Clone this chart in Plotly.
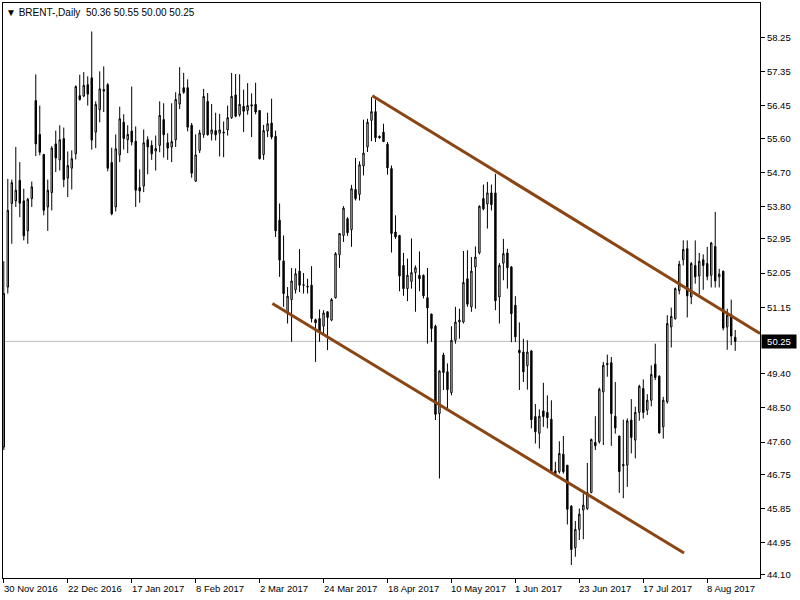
import plotly.graph_objects as go

# ---- data (BRENT daily) ----
opens = [47.47, 51.68, 53.88, 53.95, 54.49, 53.95, 53.16, 54.01, 56.59, 55.70,
         55.17, 53.79, 54.17, 55.45, 55.03, 55.59, 54.55, 54.81, 55.19, 56.72,
         56.71, 57.01, 57.19, 55.76, 56.35, 56.88, 57.01, 54.96, 53.79, 55.16,
         56.02, 55.56, 55.79, 55.52, 54.30, 54.34, 55.56, 55.41, 55.26, 55.41,
         56.09, 55.48, 55.37, 55.56, 56.50, 56.93, 56.93, 55.94, 54.47, 55.28,
         55.69, 56.57, 55.72, 55.80, 55.73, 55.76, 55.82, 56.14, 56.74, 56.22,
         56.44, 56.33, 56.48, 56.49, 56.33, 55.17, 55.79, 56.00, 55.65, 53.44,
         52.37, 50.98, 51.35, 51.61, 52.10, 51.74, 51.68, 51.73, 50.82, 50.85,
         50.65, 51.03, 50.81, 51.40, 52.53, 53.04, 53.48, 53.19, 54.25, 54.12,
         54.87, 55.37, 56.07, 56.30, 55.65, 55.76, 55.44, 54.80, 53.13, 53.04,
         52.25, 51.64, 51.83, 52.06, 51.99, 51.99, 51.40, 50.97, 50.65, 48.35,
         49.89, 49.45, 48.90, 50.28, 50.76, 50.76, 51.90, 51.16, 52.21, 52.58,
         54.01, 53.87, 54.16, 54.16, 51.42, 52.31, 52.58, 52.21, 51.20, 50.02,
         49.97, 49.61, 50.00, 48.27, 47.83, 48.42, 48.38, 48.20, 46.84, 46.82,
         47.28, 46.99, 45.91, 44.82, 45.30, 45.81, 45.85, 46.27, 47.59, 47.61,
         48.92, 49.67, 49.69, 48.28, 47.76, 46.97, 46.99, 48.18, 47.65, 48.38,
         49.01, 48.44, 48.70, 49.65, 49.33, 48.00, 48.66, 50.63, 50.85, 51.59,
         52.40, 52.69, 51.42, 52.25, 51.97, 52.40, 52.30, 51.99, 52.75, 51.95,
         52.10, 50.63, 50.96, 50.36]
highs = [52.36, 54.53, 54.51, 55.37, 54.97, 54.27, 54.03, 54.46, 57.28, 56.46,
         55.19, 54.51, 55.39, 55.80, 55.94, 55.88, 55.25, 55.28, 56.99, 57.27,
         57.34, 57.23, 58.41, 56.57, 57.36, 57.49, 57.05, 55.35, 55.70, 56.43,
         56.23, 55.94, 56.96, 55.91, 54.78, 55.83, 55.65, 55.54, 55.67, 56.57,
         56.52, 55.73, 56.52, 56.81, 57.47, 57.32, 57.15, 56.00, 55.70, 55.82,
         56.90, 56.79, 56.50, 56.27, 56.24, 56.04, 56.46, 57.32, 57.29, 57.28,
         56.88, 57.05, 56.78, 57.06, 56.33, 55.95, 56.27, 56.64, 55.80, 53.88,
         53.04, 51.68, 52.18, 52.17, 52.68, 52.05, 51.90, 52.23, 50.85, 51.09,
         51.07, 51.04, 51.39, 52.60, 53.09, 53.81, 53.52, 54.37, 55.08, 54.99,
         56.09, 56.11, 56.68, 56.62, 55.67, 55.98, 55.50, 54.88, 53.57, 53.04,
         52.58, 52.43, 52.96, 52.25, 52.62, 52.01, 52.18, 50.98, 50.69, 49.49,
         49.95, 49.67, 50.65, 51.16, 51.11, 52.63, 52.65, 52.47, 52.75, 53.83,
         54.38, 54.45, 54.38, 54.66, 52.31, 52.95, 52.69, 52.23, 51.44, 50.75,
         50.32, 50.28, 50.02, 48.60, 48.46, 49.16, 48.83, 48.70, 47.08, 47.62,
         47.76, 46.99, 45.94, 45.52, 45.85, 46.25, 47.05, 47.69, 48.28, 49.03,
         49.71, 49.90, 49.84, 49.18, 47.76, 48.19, 48.22, 48.73, 48.53, 49.11,
         49.25, 48.86, 49.62, 50.19, 49.36, 48.79, 50.94, 51.14, 51.67, 52.37,
         52.91, 52.91, 52.34, 52.91, 52.58, 52.54, 52.74, 52.87, 53.66, 52.16,
         52.11, 51.11, 51.35, 50.55]
lows = [47.39, 51.51, 52.82, 53.79, 53.52, 52.91, 52.82, 53.79, 55.13, 55.15,
        53.57, 53.16, 53.70, 54.71, 54.75, 54.31, 54.05, 54.25, 55.04, 56.59,
        56.68, 56.46, 55.30, 55.34, 56.02, 56.29, 54.73, 53.57, 53.67, 54.97,
        55.30, 55.21, 55.41, 53.79, 53.90, 54.18, 54.65, 55.03, 54.75, 55.23,
        55.09, 55.03, 54.97, 55.37, 56.37, 56.77, 55.78, 54.56, 54.45, 55.21,
        55.61, 55.67, 55.54, 55.54, 55.12, 55.10, 55.67, 56.11, 56.15, 56.17,
        55.76, 56.22, 55.63, 56.23, 55.04, 55.03, 55.63, 55.57, 53.00, 51.95,
        51.16, 50.72, 50.24, 51.51, 51.55, 51.51, 51.51, 50.75, 49.71, 50.24,
        50.46, 50.02, 50.78, 51.38, 52.18, 52.87, 53.03, 52.74, 53.96, 53.96,
        54.62, 55.24, 55.52, 55.50, 55.59, 55.50, 54.64, 52.59, 52.95, 51.57,
        51.45, 51.31, 51.64, 51.03, 51.57, 51.38, 50.19, 50.24, 48.18, 46.64,
        48.97, 48.48, 48.83, 50.19, 50.32, 50.72, 51.16, 51.03, 51.11, 52.54,
        53.70, 53.22, 53.70, 51.07, 50.72, 51.86, 51.64, 50.23, 50.23, 48.97,
        49.18, 48.98, 47.96, 47.56, 47.43, 48.00, 47.96, 46.77, 46.70, 46.77,
        46.77, 45.43, 44.36, 44.58, 45.02, 45.04, 45.81, 46.25, 47.39, 47.56,
        47.52, 49.32, 47.50, 47.82, 46.26, 46.12, 46.42, 47.30, 47.17, 48.16,
        48.22, 48.31, 48.54, 49.23, 47.82, 47.69, 48.61, 50.09, 50.82, 51.49,
        52.25, 50.88, 51.23, 51.77, 51.49, 51.61, 51.86, 51.67, 51.67, 51.67,
        50.54, 50.03, 50.15, 50.00]
closes = [51.51, 53.70, 54.43, 54.23, 53.89, 53.03, 53.99, 54.32, 55.45, 55.23,
          53.70, 54.23, 55.34, 55.08, 55.56, 54.51, 54.88, 55.06, 56.96, 56.62,
          56.99, 56.76, 55.55, 56.49, 56.90, 56.84, 54.81, 53.61, 55.32, 56.11,
          55.59, 55.70, 55.50, 54.23, 54.21, 55.48, 55.37, 55.19, 55.33, 56.20,
          55.69, 55.34, 55.51, 56.62, 56.77, 56.81, 55.89, 54.68, 55.16, 55.74,
          56.70, 55.69, 55.82, 55.69, 55.82, 55.74, 56.14, 56.70, 56.18, 56.49,
          56.31, 56.46, 56.45, 56.29, 55.06, 55.80, 55.98, 55.63, 53.16, 52.39,
          51.51, 51.44, 51.84, 52.03, 51.73, 51.73, 51.70, 50.85, 50.74, 50.53,
          51.00, 50.88, 51.35, 52.56, 53.09, 53.76, 53.11, 54.27, 54.01, 54.90,
          55.21, 56.02, 56.30, 55.61, 55.61, 55.51, 54.82, 53.09, 53.00, 51.97,
          51.64, 51.99, 52.06, 52.19, 51.90, 51.45, 51.13, 50.59, 48.33, 49.47,
          49.43, 48.98, 50.28, 50.76, 50.81, 51.80, 51.23, 52.10, 52.47, 53.81,
          53.74, 54.16, 53.85, 51.32, 52.25, 52.56, 52.19, 50.98, 50.37, 49.95,
          49.45, 49.97, 48.19, 47.87, 48.28, 48.27, 48.24, 46.82, 46.77, 47.30,
          46.82, 45.83, 44.77, 45.30, 45.70, 45.94, 46.27, 47.67, 47.50, 48.99,
          49.62, 49.64, 48.35, 47.97, 46.82, 47.01, 48.16, 47.72, 48.38, 49.07,
          48.38, 48.70, 49.38, 49.30, 47.84, 48.70, 50.72, 50.91, 51.64, 52.28,
          52.67, 51.45, 52.30, 51.95, 52.36, 52.25, 51.96, 52.84, 51.84, 52.02,
          50.60, 50.94, 50.39, 50.25]

date_tick_bars = [0, 16, 32, 48, 64, 80, 96, 112, 128, 144, 160, 176]
date_tick_labels = ["30 Nov 2016", "22 Dec 2016", "17 Jan 2017", "8 Feb 2017",
                    "2 Mar 2017", "24 Mar 2017", "18 Apr 2017", "10 May 2017",
                    "1 Jun 2017", "23 Jun 2017", "17 Jul 2017", "8 Aug 2017"]
price_ticks = [58.25, 57.35, 56.45, 55.60, 54.70, 53.80, 52.95, 52.05, 51.15,
               49.40, 48.50, 47.60, 46.75, 45.85, 44.95, 44.10]
last_price = 50.25

# trend channel lines (bar index, price)
upper_line_bars = [92.2, 189.2]
upper_line_prices = [56.72, 50.46]
lower_line_bars = [67.2, 170.2]
lower_line_prices = [51.25, 44.68]

FONT = "Liberation Sans"
BROWN = "#8B4513"

bars = list(range(len(opens)))

fig = go.Figure()
fig.add_trace(go.Candlestick(
    x=bars, open=opens, high=highs, low=lows, close=closes,
    increasing=dict(line=dict(color="black", width=1), fillcolor="white"),
    decreasing=dict(line=dict(color="black", width=1), fillcolor="black"),
    whiskerwidth=0, showlegend=False, hoverinfo="skip"))
fig.add_trace(go.Scatter(x=upper_line_bars, y=upper_line_prices, mode="lines",
                         line=dict(color=BROWN, width=3), showlegend=False,
                         hoverinfo="skip"))
fig.add_trace(go.Scatter(x=lower_line_bars, y=lower_line_prices, mode="lines",
                         line=dict(color=BROWN, width=3), showlegend=False,
                         hoverinfo="skip"))

fig.add_shape(type="line", xref="paper", x0=0, x1=1, yref="y",
              y0=last_price, y1=last_price,
              line=dict(color="#C0C0C0", width=1), layer="below")

annotations = []
for b, t in zip(date_tick_bars, date_tick_labels):
    annotations.append(dict(x=b, xref="x", y=-0.0175, yref="paper",
                            text=t, showarrow=False, xanchor="left",
                            yanchor="middle", xshift=-2,
                            font=dict(family=FONT, size=9.5, color="black")))
annotations.append(dict(x=0, xref="paper", y=1, yref="paper",
                        text="\u25BC BRENT-,Daily  50.36 50.55 50.00 50.25",
                        showarrow=False, xanchor="left", yanchor="top",
                        xshift=1, yshift=-2,
                        font=dict(family=FONT, size=10, color="black")))
annotations.append(dict(x=1, xref="paper", y=last_price, yref="y",
                        text="%.2f" % last_price, showarrow=False,
                        xanchor="left", yanchor="middle", xshift=1,
                        bgcolor="black", width=32, borderpad=1,
                        font=dict(family=FONT, size=9.5, color="white")))

fig.update_layout(
    width=800, height=600,
    margin=dict(l=3, r=40, t=3, b=22),
    paper_bgcolor="white", plot_bgcolor="white",
    boxgap=0.5,
    font=dict(family=FONT, size=9.5, color="black"),
    showlegend=False,
    annotations=annotations,
    xaxis=dict(range=[-0.2, 189.2], showgrid=False, zeroline=False,
               showline=True, linecolor="black", linewidth=1, mirror=True,
               ticks="outside", ticklen=4, tickcolor="black",
               tickvals=date_tick_bars, showticklabels=False,
               rangeslider=dict(visible=False), fixedrange=True),
    yaxis=dict(range=[44.02, 59.16], side="right", showgrid=False,
               zeroline=False, showline=True, linecolor="black", linewidth=1,
               mirror=True, ticks="outside", ticklen=4, tickcolor="black",
               tickvals=price_ticks, ticktext=["%.2f" % v for v in price_ticks],
               tickfont=dict(family=FONT, size=9.5, color="black"),
               fixedrange=True),
)

fig.write_html("out.html",
               config={"displayModeBar": False, "staticPlot": True},
               post_script="document.body.style.margin='0px';"
                           "document.body.style.overflow='hidden';")
